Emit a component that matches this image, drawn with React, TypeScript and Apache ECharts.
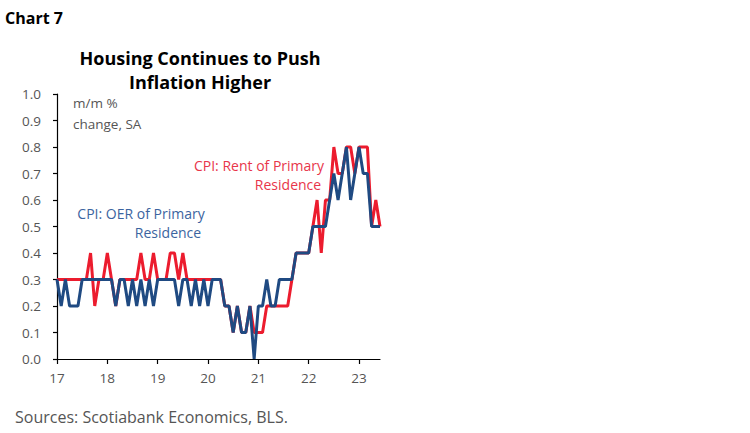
import React, { useEffect, useRef } from 'react'
import * as echarts from 'echarts'

// monthly, Dec-16 .. May-23 (year ticks fall on Dec of prior year)
const startYear = 2016
const startMonth = 11
const yearLabels = ['17', '18', '19', '20', '21', '22', '23']

// CPI: Rent of Primary Residence, m/m %
const rentValues = [
  0.3, 0.3, 0.3, 0.3, 0.3, 0.3, 0.3, 0.3, 0.4, 0.2, 0.3, 0.3, 0.4,
  0.3, 0.2, 0.3, 0.3, 0.3, 0.3, 0.3, 0.4, 0.3, 0.3, 0.4, 0.3, 0.3,
  0.3, 0.4, 0.4, 0.3, 0.4, 0.3, 0.3, 0.3, 0.3, 0.3, 0.3, 0.3, 0.3,
  0.3, 0.2, 0.2, 0.1, 0.2, 0.1, 0.1, 0.2, 0.1, 0.1, 0.1, 0.2, 0.2,
  0.2, 0.2, 0.2, 0.2, 0.3, 0.4, 0.4, 0.4, 0.4, 0.5, 0.6, 0.4, 0.6,
  0.6, 0.8, 0.7, 0.7, 0.8, 0.8, 0.7, 0.8, 0.8, 0.8, 0.5, 0.6, 0.5,
]

// CPI: OER of Primary Residence, m/m %
const oerValues = [
  0.3, 0.2, 0.3, 0.2, 0.2, 0.2, 0.3, 0.3, 0.3, 0.3, 0.3, 0.3, 0.3,
  0.3, 0.2, 0.3, 0.3, 0.2, 0.3, 0.2, 0.3, 0.2, 0.3, 0.2, 0.3, 0.3,
  0.3, 0.3, 0.3, 0.2, 0.3, 0.3, 0.2, 0.3, 0.2, 0.3, 0.2, 0.3, 0.3,
  0.3, 0.2, 0.2, 0.1, 0.2, 0.1, 0.1, 0.2, 0.0, 0.2, 0.2, 0.3, 0.2,
  0.2, 0.3, 0.3, 0.3, 0.3, 0.4, 0.4, 0.4, 0.4, 0.5, 0.5, 0.5, 0.5,
  0.6, 0.7, 0.6, 0.7, 0.8, 0.6, 0.7, 0.8, 0.7, 0.7, 0.5, 0.5, 0.5,
]

const months = rentValues.map((_, i) => {
  const m = startMonth + i
  return `${startYear + Math.floor(m / 12)}-${String((m % 12) + 1).padStart(2, '0')}`
})

const RED = '#ec1c2e'
const BLUE = '#1f4a82'
const GREY = '#555555'
const FONT = '"Open Sans", "Noto Sans", sans-serif'

export default function App(): JSX.Element {
  const ref = useRef<HTMLDivElement>(null)

  useEffect(() => {
    if (!ref.current) return
    const chart = echarts.init(ref.current, null, { renderer: 'svg' })

    const txt = (text: string, x: number, y: number, color: string, align = 'left', size = 13.5) => ({
      type: 'text',
      x,
      y,
      style: { text, fill: color, font: `${size}px ${FONT}`, textAlign: align, textVerticalAlign: 'middle' },
    })

    chart.setOption({
      animation: false,
      backgroundColor: '#ffffff',
      grid: { left: 57, top: 94, right: 370, bottom: 74, containLabel: false },
      xAxis: {
        type: 'category',
        data: months,
        boundaryGap: false,
        axisLine: { lineStyle: { color: '#000', width: 1.2 } },
        axisTick: {
          interval: (i: number) => i % 12 === 0,
          length: 5,
          lineStyle: { color: '#000', width: 1.2 },
        },
        axisLabel: {
          interval: (i: number) => i % 12 === 0,
          formatter: (_v: string, i: number) => yearLabels[i / 12] ?? '',
          color: GREY,
          fontFamily: FONT,
          fontSize: 13.5,
          margin: 12,
        },
        splitLine: { show: false },
      },
      yAxis: {
        type: 'value',
        min: 0,
        max: 1,
        interval: 0.1,
        axisLine: { show: true, lineStyle: { color: '#000', width: 1.2 } },
        axisTick: { show: true, length: 4, lineStyle: { color: '#000', width: 1.2 } },
        axisLabel: {
          formatter: (v: number) => v.toFixed(1),
          color: GREY,
          fontFamily: FONT,
          fontSize: 13.5,
          margin: 16,
        },
        splitLine: { show: false },
      },
      series: [
        {
          name: 'CPI: Rent of Primary Residence',
          type: 'line',
          data: rentValues,
          symbol: 'none',
          lineStyle: { color: RED, width: 3 },
          z: 2,
        },
        {
          name: 'CPI: OER of Primary Residence',
          type: 'line',
          data: oerValues,
          symbol: 'none',
          lineStyle: { color: BLUE, width: 3 },
          z: 3,
        },
      ],
      graphic: [
        {
          type: 'text',
          x: 5,
          y: 18,
          style: { text: 'Chart 7', fill: '#000', font: `bold 16px ${FONT}`, textVerticalAlign: 'middle' },
        },
        {
          type: 'text',
          x: 200,
          y: 58,
          style: { text: 'Housing Continues to Push', fill: '#000', font: `bold 18px ${FONT}`, textAlign: 'center', textVerticalAlign: 'middle' },
        },
        {
          type: 'text',
          x: 200,
          y: 82,
          style: { text: 'Inflation Higher', fill: '#000', font: `bold 18px ${FONT}`, textAlign: 'center', textVerticalAlign: 'middle' },
        },
        txt('m/m %', 73, 103, GREY),
        txt('change, SA', 73, 124, GREY),
        txt('CPI: Rent of Primary', 259, 165, '#e8354a', 'center', 14),
        txt('Residence', 288, 184, '#e8354a', 'center', 14),
        txt('CPI: OER of Primary', 141, 213, '#3b64a0', 'center', 14),
        txt('Residence', 168, 232, '#3b64a0', 'center', 14),
        txt('Sources: Scotiabank Economics, BLS.', 15, 417, GREY, 'left', 16),
      ],
    })

    return () => chart.dispose()
  }, [])

  return <div ref={ref} style={{ position: 'fixed', left: 0, top: 0, width: 750, height: 433 }} />
}
